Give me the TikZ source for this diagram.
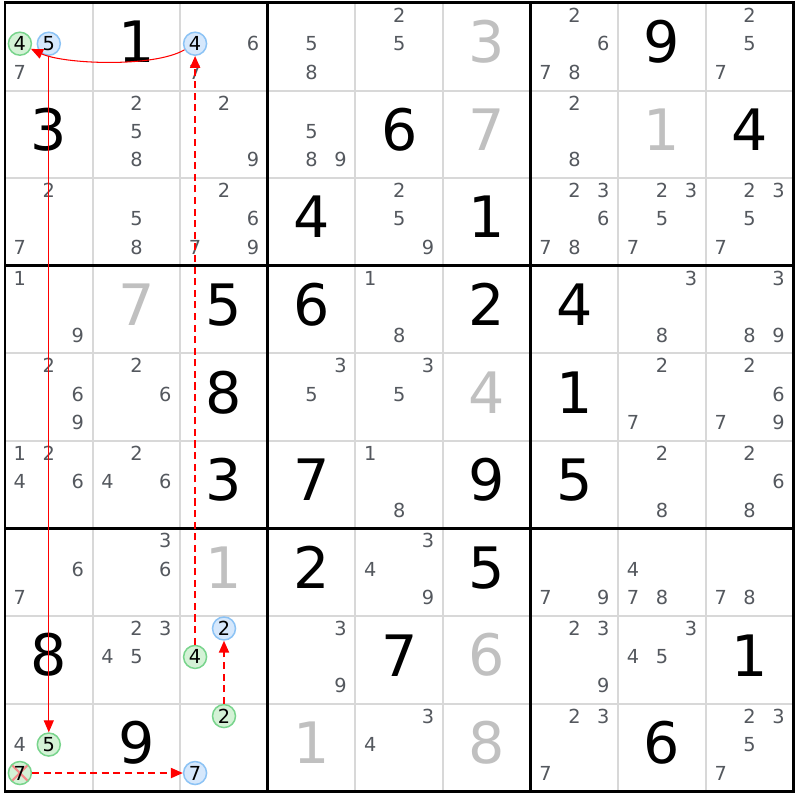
\documentclass[tikz,border=0pt]{standalone}
\usepackage{fontspec}
\setmainfont{DejaVu Sans}
\usetikzlibrary{arrows.meta}
\definecolor{candgrey}{RGB}{84,88,94}
\definecolor{solvedgrey}{RGB}{192,192,192}
\definecolor{gridgrey}{RGB}{216,216,216}
\definecolor{onfill}{RGB}{214,232,252}
\definecolor{online}{RGB}{140,195,245}
\definecolor{offfill}{RGB}{212,242,214}
\definecolor{offline}{RGB}{120,212,140}
\definecolor{crossred}{RGB}{245,140,140}
% candidate: row, col, digit, style, name
\newcommand{\candAt}[5]{%
  \pgfmathsetmacro\cx{#2-0.83+0.33*mod(#3-1,3)}
  \pgfmathsetmacro\cy{#1-0.86+0.325*int((#3-1)/3)}
  \node[cand,#4] (#5) at (\cx,\cy) {#3};}
\newcommand{\cands}[3]{\foreach \dg in {#3}{\candAt{#1}{#2}{\dg}{}{c#1#2\dg}}}
\newcommand{\givenDigit}[3]{\node[big] (g#1#2) at (#2-0.5,#1-0.555) {#3};}
\newcommand{\solvedDigit}[3]{\node[big,text=solvedgrey] (s#1#2) at (#2-0.5,#1-0.555) {#3};}
\begin{document}
\begin{tikzpicture}[x=1.752cm,y=-1.752cm,
    cand/.style={font=\fontsize{11}{13}\selectfont,text=candgrey,inner sep=0pt},
    big/.style={font=\fontsize{32.5}{36}\selectfont,inner sep=0pt},
    oncand/.style={circle,draw=online,fill=onfill,line width=0.85pt,minimum size=0.46cm,text=black},
    offcand/.style={circle,draw=offline,fill=offfill,line width=0.85pt,minimum size=0.46cm,text=black},
    elim/.style={path picture={\draw[crossred,line width=1.2pt]
      (path picture bounding box.north west) -- (path picture bounding box.south east)
      (path picture bounding box.north east) -- (path picture bounding box.south west);}},
    link/.style={-{Triangle[length=6.8pt,width=5.7pt]},red,line width=0.6pt},
    weak/.style={link,line width=1.1pt,dash pattern=on 4pt off 2.6pt}]
  \fill[white] (-0.057,-0.034) rectangle (9.075,9.098);
  \useasboundingbox (-0.057,-0.034) rectangle (9.075,9.098);
  % grid
  \foreach \i in {1,2,4,5,7,8} {
    \draw[gridgrey,line width=1.1pt] (\i,0) -- (\i,9);
    \draw[gridgrey,line width=1.1pt] (0,\i) -- (9,\i);
  }
  \foreach \i in {3,6} {
    \draw[line width=1.7pt] (\i,0) -- (\i,9);
    \draw[line width=1.7pt] (0,\i) -- (9,\i);
  }
  \draw[line width=1.7pt] (0,0) rectangle (9,9);
  % row 1
  \candAt{1}{1}{4}{offcand}{c114} \candAt{1}{1}{5}{oncand}{c115} \cands{1}{1}{7}
  \givenDigit{1}{2}{1}
  \candAt{1}{3}{4}{oncand}{c134} \cands{1}{3}{6,7}
  \cands{1}{4}{5,8} \cands{1}{5}{2,5} \solvedDigit{1}{6}{3}
  \cands{1}{7}{2,6,7,8} \givenDigit{1}{8}{9} \cands{1}{9}{2,5,7}
  % row 2
  \givenDigit{2}{1}{3} \cands{2}{2}{2,5,8} \cands{2}{3}{2,9}
  \cands{2}{4}{5,8,9} \givenDigit{2}{5}{6} \solvedDigit{2}{6}{7}
  \cands{2}{7}{2,8} \solvedDigit{2}{8}{1} \givenDigit{2}{9}{4}
  % row 3
  \cands{3}{1}{2,7} \cands{3}{2}{5,8} \cands{3}{3}{2,6,7,9}
  \givenDigit{3}{4}{4} \cands{3}{5}{2,5,9} \givenDigit{3}{6}{1}
  \cands{3}{7}{2,3,6,7,8} \cands{3}{8}{2,3,5,7} \cands{3}{9}{2,3,5,7}
  % row 4
  \cands{4}{1}{1,9} \solvedDigit{4}{2}{7} \givenDigit{4}{3}{5}
  \givenDigit{4}{4}{6} \cands{4}{5}{1,8} \givenDigit{4}{6}{2}
  \givenDigit{4}{7}{4} \cands{4}{8}{3,8} \cands{4}{9}{3,8,9}
  % row 5
  \cands{5}{1}{2,6,9} \cands{5}{2}{2,6} \givenDigit{5}{3}{8}
  \cands{5}{4}{3,5} \cands{5}{5}{3,5} \solvedDigit{5}{6}{4}
  \givenDigit{5}{7}{1} \cands{5}{8}{2,7} \cands{5}{9}{2,6,7,9}
  % row 6
  \cands{6}{1}{1,2,4,6} \cands{6}{2}{2,4,6} \givenDigit{6}{3}{3}
  \givenDigit{6}{4}{7} \cands{6}{5}{1,8} \givenDigit{6}{6}{9}
  \givenDigit{6}{7}{5} \cands{6}{8}{2,8} \cands{6}{9}{2,6,8}
  % row 7
  \cands{7}{1}{6,7} \cands{7}{2}{3,6} \solvedDigit{7}{3}{1}
  \givenDigit{7}{4}{2} \cands{7}{5}{3,4,9} \givenDigit{7}{6}{5}
  \cands{7}{7}{7,9} \cands{7}{8}{4,7,8} \cands{7}{9}{7,8}
  % row 8
  \givenDigit{8}{1}{8} \cands{8}{2}{2,3,4,5}
  \candAt{8}{3}{2}{oncand}{c832} \candAt{8}{3}{4}{offcand}{c834}
  \cands{8}{4}{3,9} \givenDigit{8}{5}{7} \solvedDigit{8}{6}{6}
  \cands{8}{7}{2,3,9} \cands{8}{8}{3,4,5} \givenDigit{8}{9}{1}
  % row 9
  \cands{9}{1}{4} \candAt{9}{1}{5}{offcand}{c915} \candAt{9}{1}{7}{offcand,elim}{c917}
  \givenDigit{9}{2}{9}
  \candAt{9}{3}{2}{offcand}{c932} \candAt{9}{3}{7}{oncand}{c937}
  \solvedDigit{9}{4}{1} \cands{9}{5}{3,4} \solvedDigit{9}{6}{8}
  \cands{9}{7}{2,3,7} \givenDigit{9}{8}{6} \cands{9}{9}{2,3,5,7}
  % chain
  \draw[link] (c134) to[out=210,in=-25,looseness=0.6] (c114);
  \draw[link] (c115) -- (c915);
  \draw[weak] (c834) -- (c134);
  \draw[weak] (c932) -- (c832);
  \draw[weak] (c917) -- (c937);
\end{tikzpicture}
\end{document}
